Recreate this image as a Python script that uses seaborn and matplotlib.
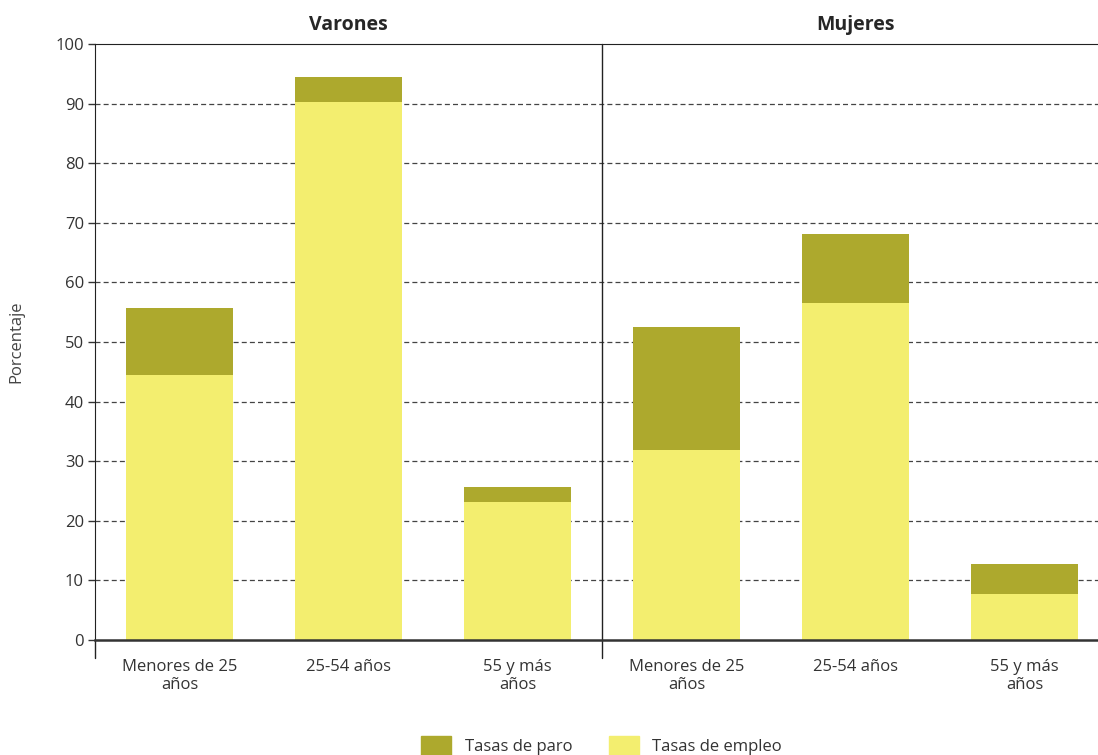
import pandas as pd
import numpy as np
import matplotlib
matplotlib.use("Agg")
import matplotlib.pyplot as plt
import seaborn as sns
from matplotlib.patches import Patch

# datos
sexos = ["Varones", "Varones", "Varones", "Mujeres", "Mujeres", "Mujeres"]
edades = ["Menores de 25\naños", "25-54 años", "55 y más\naños",
          "Menores de 25\naños", "25-54 años", "55 y más\naños"]
tasa_empleo = [44.5, 90.3, 23.2, 31.9, 56.5, 7.7]
tasa_paro = [11.2, 4.2, 2.5, 20.6, 11.6, 5.1]

col_paro = "#ADA92D"
col_empleo = "#F3EE6F"

df = pd.DataFrame({"clave": [f"{s}_{i}" for i, s in enumerate(sexos)],
                   "empleo": tasa_empleo, "paro": tasa_paro})
df["total"] = df["empleo"] + df["paro"]

sns.set_style("white")
plt.rcParams["font.family"] = ["Open Sans", "DejaVu Sans"]

fig = plt.figure(figsize=(10.98, 7.55), dpi=100)
ax = fig.add_axes([95 / 1098, 1 - 640 / 755, 1 - 95 / 1098, (640 - 44) / 755])

sns.barplot(data=df, x="clave", y="total", color=col_paro, width=0.63,
            saturation=1, ax=ax, zorder=2)
sns.barplot(data=df, x="clave", y="empleo", color=col_empleo, width=0.63,
            saturation=1, ax=ax, zorder=3)
for p in ax.patches:
    p.set_linewidth(0)

ax.set_ylim(0, 100)
ax.set_xlim(-0.5, (1098 - 95) / 169 - 0.5)
ax.set_yticks(range(0, 101, 10))
ax.set_yticklabels([str(v) for v in range(0, 101, 10)], fontsize=12, color="#333333")
ax.set_xticks(range(6))
ax.set_xticklabels(edades, fontsize=12, color="#333333", linespacing=1.1)
ax.tick_params(axis="x", length=0, pad=14)
ax.tick_params(axis="y", length=5, width=1, color="#333333", left=True, pad=3)

for v in range(10, 100, 10):
    ax.axhline(v, color="#444444", lw=0.9, ls=(0, (4, 2.5)), zorder=1)

ax.spines["right"].set_visible(False)
ax.spines["top"].set_color("#222222")
ax.spines["left"].set_color("#222222")
ax.spines["bottom"].set_color("#333333")
ax.spines["bottom"].set_linewidth(1.8)
ax.spines["bottom"].set_zorder(5)

# divisor entre varones y mujeres y marcas bajo el eje
ax.plot([2.5, 2.5], [-3, 100], color="#222222", lw=1, clip_on=False, zorder=4)
ax.plot([-0.5, -0.5], [-3, 0], color="#222222", lw=1, clip_on=False, zorder=4)

ax.set_xlabel("")
ax.set_ylabel("Porcentaje", fontsize=12, color="#444444", labelpad=22)

ax.text(1, 101.5, "Varones", ha="center", va="bottom", fontsize=14, fontweight="bold")
ax.text(4, 101.5, "Mujeres", ha="center", va="bottom", fontsize=14, fontweight="bold")

handles = [Patch(color=col_paro, label="Tasas de paro"),
           Patch(color=col_empleo, label="Tasas de empleo")]
fig.legend(handles=handles, loc="lower center", bbox_to_anchor=(0.548, -0.02),
           ncol=2, frameon=False, fontsize=12, handlelength=1.8, handleheight=1.3,
           columnspacing=2.2, handletextpad=0.8, labelcolor="#333333")

fig.savefig("out.png", dpi=100)
